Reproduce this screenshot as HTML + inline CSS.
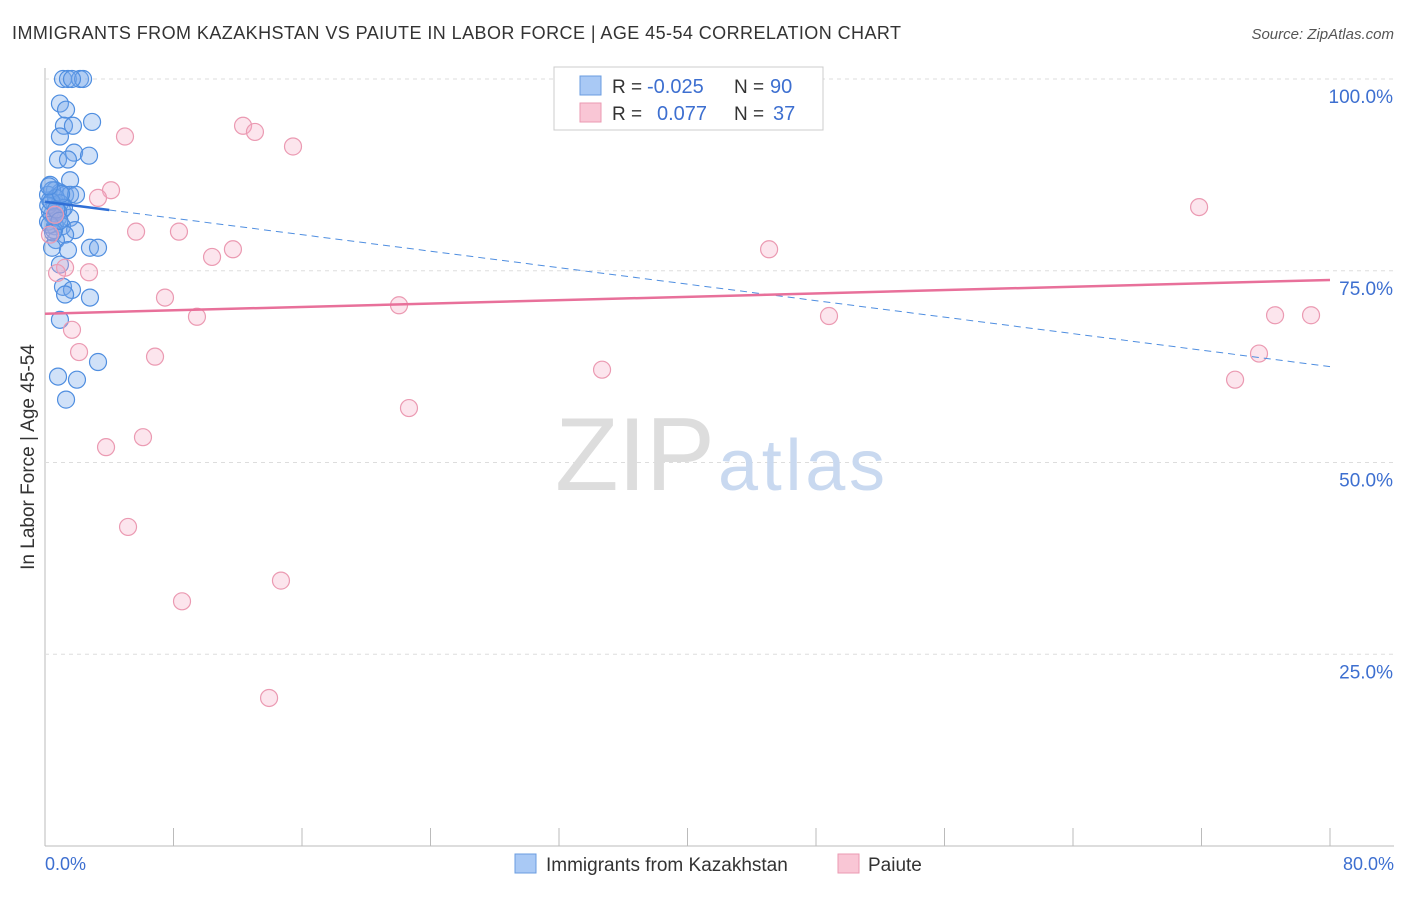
<!DOCTYPE html>
<html><head><meta charset="utf-8"><style>
body{margin:0;background:#fff;font-family:"Liberation Sans",sans-serif;}
svg text{font-family:"Liberation Sans",sans-serif;}
</style></head><body>
<svg id="c" width="1406" height="892">
<text x="12" y="39" font-size="18" fill="#333" textLength="889">IMMIGRANTS FROM KAZAKHSTAN VS PAIUTE IN LABOR FORCE | AGE 45-54 CORRELATION CHART</text>
<text x="1394" y="39" font-size="15" fill="#555" text-anchor="end" font-style="italic">Source: ZipAtlas.com</text>
<text x="34" y="457" font-size="19" fill="#333" text-anchor="middle" transform="rotate(-90 34 457)">In Labor Force | Age 45-54</text>
<g id="grid"></g>
<text x="555" y="490" font-size="104" fill="#ddd" textLength="160" font-family="Liberation Serif">ZIP</text>
<text x="718" y="490" font-size="72" fill="#c9d9f0" textLength="167">atlas</text>
<g id="pts"></g>
<g id="lines"></g>
<g>
<rect x="554" y="67" width="269" height="63" fill="#fff" stroke="#ccc"/>
<rect x="580" y="76" width="21" height="19" fill="#a9c9f5" stroke="#6a9ce0"/>
<rect x="580" y="103" width="21" height="19" fill="#f9c6d5" stroke="#eb9ab2"/>
<text x="612" y="93" font-size="19" fill="#333">R =</text>
<text x="647" y="93" font-size="20" fill="#3d6fd0">-0.025</text>
<text x="734" y="93" font-size="19" fill="#333">N =</text>
<text x="770" y="93" font-size="20" fill="#3d6fd0">90</text>
<text x="612" y="120" font-size="19" fill="#333">R =</text>
<text x="657" y="120" font-size="20" fill="#3d6fd0">0.077</text>
<text x="734" y="120" font-size="19" fill="#333">N =</text>
<text x="773" y="120" font-size="20" fill="#3d6fd0">37</text>
</g>
<g>
<rect x="515" y="854" width="21" height="19" fill="#a9c9f5" stroke="#6a9ce0"/>
<text x="546" y="871" font-size="19" fill="#333">Immigrants from Kazakhstan</text>
<rect x="838" y="854" width="21" height="19" fill="#f9c6d5" stroke="#eb9ab2"/>
<text x="868" y="871" font-size="19" fill="#333">Paiute</text>
</g>
<text x="45" y="870" font-size="18" fill="#3d6fd0">0.0%</text>
<text x="1394" y="870" font-size="18" fill="#3d6fd0" text-anchor="end">80.0%</text>
</svg>
<script>
const yTicks=[25,50,75,100];
const yTickLabels=["25.0%","50.0%","75.0%","100.0%"];
const xTicks=[0,8,16,24,32,40,48,56,64,72,80];
const blueX=[1.12,1.43,2.18,2.37,1.68,0.93,1.31,1.18,1.74,2.93,0.93,1.81,2.74,0.81,1.43,1.56,0.31,0.62,0.93,1.25,1.56,1.93,0.31,0.62,1.06,0.44,0.81,1.56,0.19,0.62,1.06,1.87,1.25,0.68,0.44,1.43,2.80,3.30,0.93,1.12,1.68,2.80,1.25,0.93,3.30,0.81,1.99,1.31,0.19,0.44,0.68,0.93,1.18,0.31,0.56,0.81,0.2,0.4,0.6,0.3,0.5,0.7,0.9,1.0,0.25];
const blueY=[100,100,100,100,100,96.8,96.0,93.9,93.9,94.4,92.5,90.4,90.0,89.5,89.5,86.8,86.2,85.5,85.2,84.9,84.9,84.9,84.2,83.6,82.9,82.3,81.9,81.9,81.4,80.8,80.8,80.3,79.7,79.0,78.0,77.7,78.0,78.0,75.8,72.9,72.5,71.5,71.9,68.6,63.1,61.2,60.8,58.2,84.9,85.5,84.5,83.8,83.2,82.7,80.3,82.7,83.5,84.0,82.0,81.0,80.0,83.0,81.5,85.0,86.0];
const pinkX=[4.98,12.33,13.07,15.44,4.11,3.30,5.67,8.34,11.70,10.40,2.74,1.25,0.75,7.47,9.46,22.04,1.68,2.12,6.85,34.68,22.66,6.10,3.80,5.17,8.53,14.69,13.95,45.08,48.81,71.85,76.58,78.82,75.58,74.09,45.89,0.62,0.31];
const pinkY=[92.5,93.9,93.1,91.2,85.5,84.5,80.1,80.1,77.8,76.8,74.8,75.4,74.7,71.5,69.0,70.5,67.3,64.4,63.8,62.1,57.1,53.3,52.0,41.6,31.9,34.6,19.3,77.8,69.1,83.3,69.2,69.2,64.2,60.8,100,82.3,79.7];
const blueTrend=[84.0,62.5];
const pinkTrend=[69.4,73.8];
const NS="http://www.w3.org/2000/svg";
const xs=v=>45+v/80*1285, ys=v=>846-v/100*767;
function mk(t,a,p){const e=document.createElementNS(NS,t);for(const k in a)e.setAttribute(k,a[k]);document.getElementById(p).appendChild(e);return e;}
mk('line',{x1:45,y1:68,x2:45,y2:846,stroke:'#bbb'},'grid');
mk('line',{x1:45,y1:846,x2:1394,y2:846,stroke:'#bbb'},'grid');
yTicks.forEach((v,i)=>{
 const l=mk('line',{x1:45,y1:ys(v),x2:1394,y2:ys(v),stroke:'#ddd','stroke-dasharray':'4,4'},'grid');
 
 
 const t=mk('text',{x:1393,y:ys(v)+24,'font-size':19,fill:'#3d6fd0','text-anchor':'end'},'grid');
 t.textContent=yTickLabels[i];
 
 
});
xTicks.forEach(v=>{
 const l=mk('line',{x1:xs(v),y1:828,x2:xs(v),y2:846,stroke:'#bbb'},'grid');
 
 
});
blueX.forEach((x,i)=>{
 const c=mk('circle',{cx:xs(x),cy:ys(blueY[i]),r:8.5,fill:'rgba(120,170,235,0.35)',stroke:'#4f8ee0','stroke-width':1.2},'pts');
 
 
});
pinkX.forEach((x,i)=>{
 const c=mk('circle',{cx:xs(x),cy:ys(pinkY[i]),r:8.5,fill:'rgba(245,170,195,0.3)',stroke:'#eb9ab2','stroke-width':1.2},'pts');
 
 
});
const bAt=x=>blueTrend[0]+(blueTrend[1]-blueTrend[0])*x/80;
let l1=mk('line',{x1:xs(0),y1:ys(bAt(0)),x2:xs(4),y2:ys(bAt(4)),stroke:'#2f6fd6','stroke-width':2.5},'lines');


let l2=mk('line',{x1:xs(4),y1:ys(bAt(4)),x2:xs(80),y2:ys(bAt(80)),stroke:'#4f8ee0','stroke-width':1,'stroke-dasharray':'7,5'},'lines');


let l3=mk('line',{x1:xs(0),y1:ys(pinkTrend[0]),x2:xs(80),y2:ys(pinkTrend[1]),stroke:'#e8709a','stroke-width':2.5},'lines');


</script>
</body></html>
